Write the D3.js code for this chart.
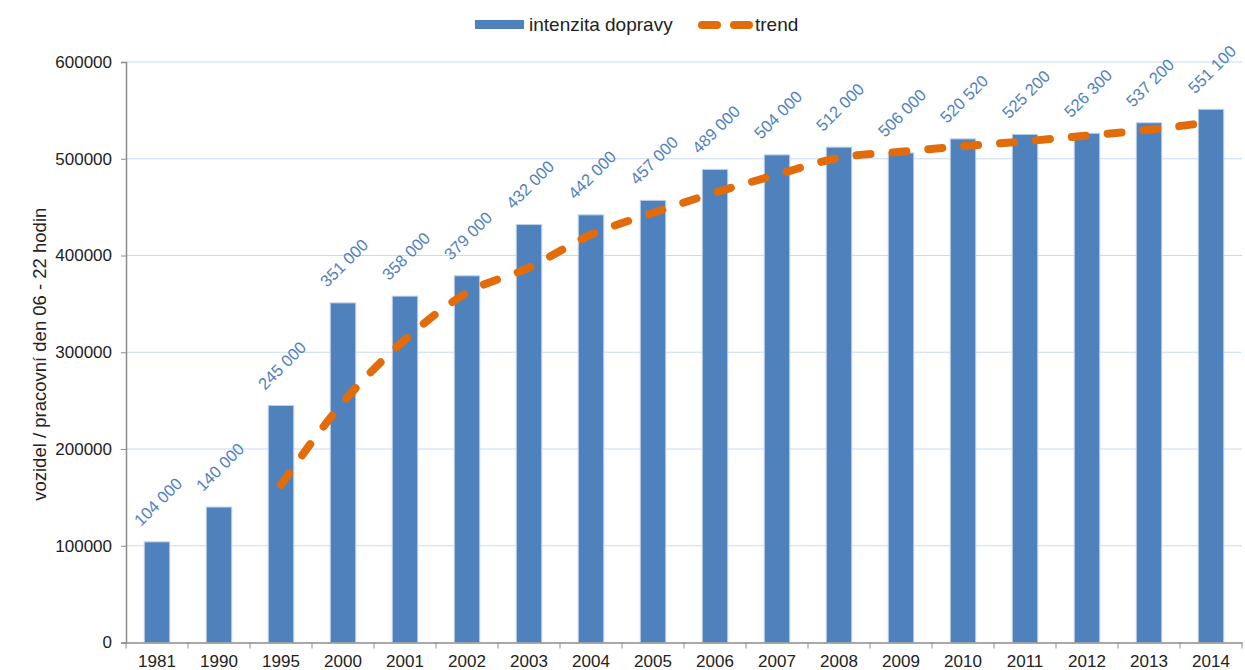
<!DOCTYPE html>
<html>
<head>
<meta charset="utf-8">
<script src="https://cdn.jsdelivr.net/npm/d3@7"></script>
<style>
  body { margin:0; background:#fff; }
  text { font-family:"Liberation Sans", Arial, sans-serif; }
  .tick text { font-size:17px; fill:#222; }
  .domain, .tick line { stroke:#8c8c8c; }
</style>
</head>
<body>
<svg id="chart"></svg>
<script>
// years on the x axis
var years = ["1981","1990","1995","2000","2001","2002","2003","2004","2005",
             "2006","2007","2008","2009","2010","2011","2012","2013","2014"]
// traffic intensity (vehicles per working day 06-22 h)
var intensity = [104000,140000,245000,351000,358000,379000,432000,442000,457000,
                 489000,504000,512000,506000,520520,525200,526300,537200,551100]
// trend line (starts at 1995)
var trendYears = ["1995","2000","2001","2002","2003","2004","2005","2006","2007",
                  "2008","2009","2010","2011","2012","2013","2014"]
var trendValues = [163000,248000,313000,361500,387500,421500,444000,465000,483500,
                   501000,507300,513000,518000,524000,530000,538000]
var yTicks = [0,100000,200000,300000,400000,500000,600000]

var screen = {width:1245,height:670}
var margins = {left:126,right:3,top:62,bottom:27.5}
var graph = {
    width:screen.width-margins.left-margins.right,
    height:screen.height-margins.top-margins.bottom
}

var svg = d3.select("#chart")
    .attr("width",screen.width)
    .attr("height",screen.height)

var target = svg.append("g")
    .attr("transform","translate("+margins.left+","+margins.top+")")

var xScale = d3.scaleBand()
    .domain(years)
    .range([0,graph.width])
    .paddingInner(0.59)
    .paddingOuter(0.295)

var yScale = d3.scaleLinear()
    .domain([0,600000])
    .range([graph.height,0])

// gridlines
target.append("g")
    .selectAll("line")
    .data(yTicks.slice(1))
    .enter()
    .append("line")
    .attr("x1",0)
    .attr("x2",graph.width)
    .attr("y1",function(d){return yScale(d)})
    .attr("y2",function(d){return yScale(d)})
    .attr("stroke","#c9daf0")
    .attr("stroke-width",1.2)

// bars
target.append("g")
    .selectAll("rect")
    .data(intensity)
    .enter()
    .append("rect")
    .attr("x",function(d,i){return xScale(years[i])})
    .attr("y",function(d){return yScale(d)})
    .attr("width",xScale.bandwidth())
    .attr("height",function(d){return graph.height-yScale(d)})
    .attr("fill","#4f81bd")
    .attr("stroke","#bcd0e8")
    .attr("stroke-width",1)

// value labels
var spaced = d3.formatLocale({decimal:",",thousands:" ",grouping:[3],currency:["",""]}).format(",")
target.append("g")
    .selectAll("text")
    .data(intensity)
    .enter()
    .append("text")
    .attr("transform",function(d,i){
        var cx = xScale(years[i])+xScale.bandwidth()/2+1
        return "translate("+cx+","+(yScale(d)-40)+") rotate(-45)"
    })
    .attr("text-anchor","middle")
    .attr("dy","0.35em")
    .attr("font-size",16.5)
    .attr("fill","#4f81bd")
    .text(function(d){return spaced(d)})

// trend line
var line = d3.line()
    .x(function(d,i){return xScale(trendYears[i])+xScale.bandwidth()/2})
    .y(function(d){return yScale(d)})
    .curve(d3.curveMonotoneX)

target.append("path")
    .datum(trendValues)
    .attr("d",line)
    .attr("fill","none")
    .attr("stroke","#e36c0a")
    .attr("stroke-width",8)
    .attr("stroke-linecap","round")
    .attr("stroke-dasharray","14,22")

// axes
var xAxis = d3.axisBottom(xScale).tickSize(0).tickPadding(12)
var xg = target.append("g")
    .attr("transform","translate(0,"+graph.height+")")
    .call(xAxis)
// ticks between categories
xg.selectAll(".sep")
    .data(d3.range(years.length+1))
    .enter()
    .append("line")
    .attr("class","sep")
    .attr("x1",function(i){return i*xScale.step()})
    .attr("x2",function(i){return i*xScale.step()})
    .attr("y1",0)
    .attr("y2",6)
    .attr("stroke","#8c8c8c")

var yAxis = d3.axisLeft(yScale)
    .tickValues(yTicks)
    .tickFormat(d3.format("d"))
    .tickSize(5)
    .tickPadding(9)
target.append("g")
    .call(yAxis)

target.selectAll(".domain").attr("stroke-width",1.5)

// y label
svg.append("g")
    .attr("transform","translate(46,"+(margins.top+graph.height/2+2)+")")
    .append("text")
    .attr("transform","rotate(-90)")
    .attr("text-anchor","middle")
    .attr("font-size",18.5)
    .attr("fill","#222")
    .text("vozidel / pracovní den 06 - 22 hodin")

// legend
var legend = svg.append("g").classed("legend",true)
legend.append("rect")
    .attr("x",475).attr("y",20)
    .attr("width",49).attr("height",9)
    .attr("fill","#4f81bd")
legend.append("text")
    .attr("x",529).attr("y",31)
    .attr("font-size",19)
    .attr("fill","#222")
    .text("intenzita dopravy")
legend.append("line")
    .attr("x1",702).attr("x2",750)
    .attr("y1",25).attr("y2",25)
    .attr("stroke","#e36c0a")
    .attr("stroke-width",8)
    .attr("stroke-linecap","round")
    .attr("stroke-dasharray","15,17")
legend.append("text")
    .attr("x",755).attr("y",31)
    .attr("font-size",19)
    .attr("fill","#222")
    .text("trend")
</script>
</body>
</html>
